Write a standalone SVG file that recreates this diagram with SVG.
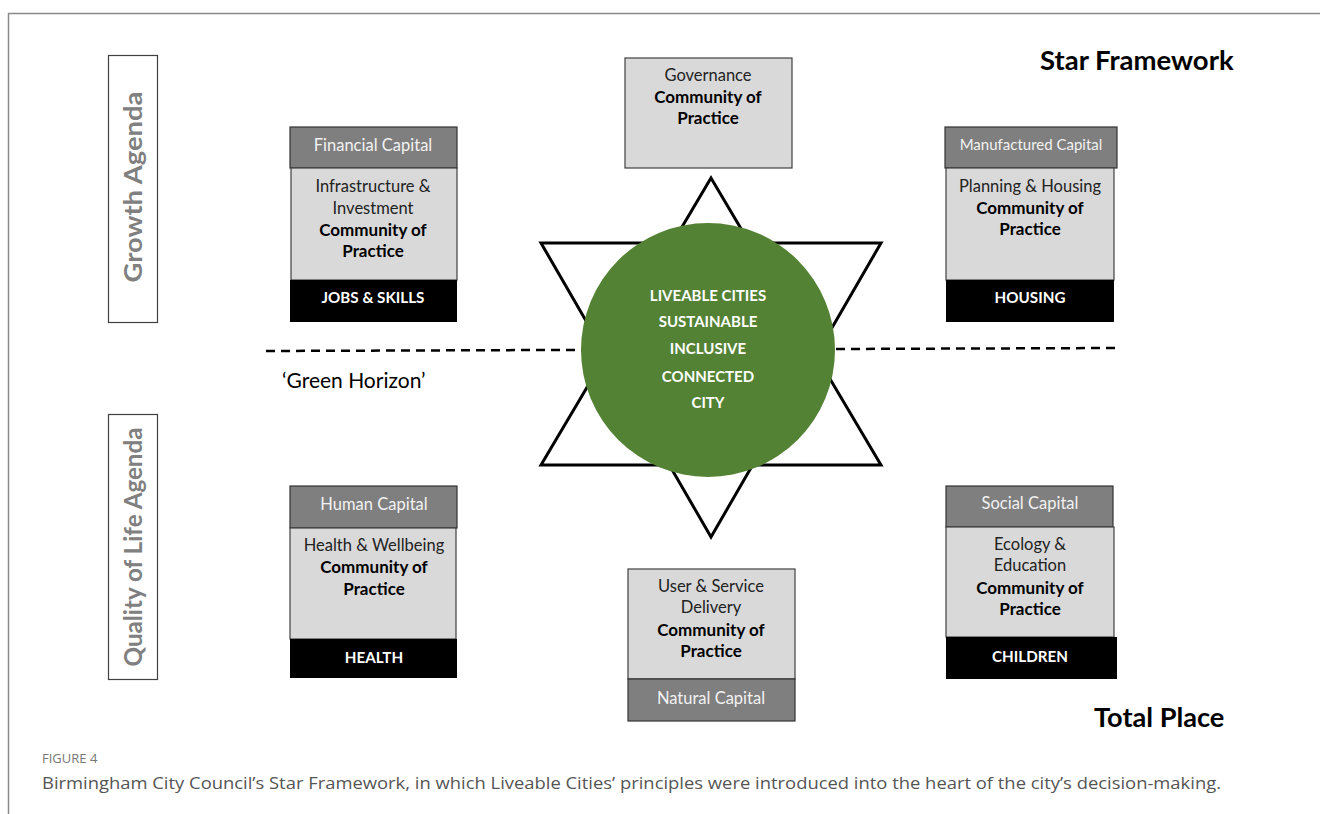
<svg xmlns="http://www.w3.org/2000/svg" width="1320" height="814" viewBox="0 0 1320 814">
<style>
  .t{font-family:Lato,"Liberation Sans",sans-serif;font-size:16.5px;text-anchor:middle}
  .hdr{fill:#7f7f7f;stroke:#333;stroke-width:1.2}
  .bod{fill:#d9d9d9;stroke:#404040;stroke-width:1.2}
  .ftr{fill:#000}
  .ht{fill:#f2f2f2}
  .bt{fill:#222}
  .b{font-weight:bold;fill:#000;font-size:17px}
  .ft{fill:#fff;font-weight:bold;font-size:15.2px}
  .side{fill:#fff;stroke:#404040;stroke-width:1.2}
  .sidet{font-family:Lato,"Liberation Sans",sans-serif;font-size:25px;fill:#808080;font-weight:bold;text-anchor:middle}
  .ct{font-family:Lato,"Liberation Sans",sans-serif;font-size:15px;font-weight:bold;fill:#fff;text-anchor:middle}
  .title{font-family:Lato,"Liberation Sans",sans-serif;font-size:27.5px;font-weight:bold;fill:#000}
</style>
<rect width="1320" height="814" fill="#fff"/>
<path d="M8.5 814 V13.5 H1320" fill="none" stroke="#8a8a8a" stroke-width="1.5"/>

<g id="growth-agenda">
  <rect class="side" x="108.5" y="55.5" width="49" height="267"/>
  <text class="sidet" transform="translate(142 187) rotate(-90)" textLength="191" lengthAdjust="spacingAndGlyphs">Growth Agenda</text>
</g>
<g id="quality-agenda">
  <rect class="side" x="108.5" y="414.5" width="49" height="265"/>
  <text class="sidet" transform="translate(142 547) rotate(-90)" textLength="239" lengthAdjust="spacingAndGlyphs">Quality of Life Agenda</text>
</g>

<g id="connectors">
  <line x1="266" y1="351" x2="1117" y2="348" stroke="#000" stroke-width="2.5" stroke-dasharray="9 6"/>
</g>

<g id="star">
  <polygon points="711,178 881,465 541,465" fill="#fff" stroke="#000" stroke-width="3" stroke-linejoin="miter"/>
  <polygon points="541,243 881,243 711,537" fill="none" stroke="#000" stroke-width="3" stroke-linejoin="miter"/>
</g>

<g id="center">
  <circle cx="708" cy="350" r="127" fill="#548235"/>
  <text class="ct" x="708" y="301">LIVEABLE CITIES</text>
  <text class="ct" x="708" y="327">SUSTAINABLE</text>
  <text class="ct" x="708" y="354">INCLUSIVE</text>
  <text class="ct" x="708" y="382">CONNECTED</text>
  <text class="ct" x="708" y="408">CITY</text>
</g>

<g id="governance">
  <rect class="bod" x="625" y="58" width="167" height="110"/>
  <text class="t bt" x="708" y="81">Governance</text>
  <text class="t b" x="708" y="103">Community of</text>
  <text class="t b" x="708" y="124">Practice</text>
</g>

<g id="financial">
  <rect class="hdr" x="290" y="127" width="167" height="41"/>
  <rect class="bod" x="291" y="168" width="166" height="112"/>
  <rect class="ftr" x="290" y="280" width="167" height="42"/>
  <text class="t ht" x="373" y="151">Financial Capital</text>
  <text class="t bt" x="373" y="192">Infrastructure &amp;</text>
  <text class="t bt" x="373" y="214">Investment</text>
  <text class="t b" x="373" y="236">Community of</text>
  <text class="t b" x="373" y="257">Practice</text>
  <text class="t ft" x="373" y="303">JOBS &amp; SKILLS</text>
</g>

<g id="manufactured">
  <rect class="hdr" x="945" y="127" width="172" height="41"/>
  <rect class="bod" x="946" y="168" width="168" height="112"/>
  <rect class="ftr" x="946" y="280" width="168" height="42"/>
  <text class="t ht" x="1031" y="150" style="font-size:15px">Manufactured Capital</text>
  <text class="t bt" x="1030" y="192">Planning &amp; Housing</text>
  <text class="t b" x="1030" y="214">Community of</text>
  <text class="t b" x="1030" y="235">Practice</text>
  <text class="t ft" x="1030" y="303">HOUSING</text>
</g>

<g id="human">
  <rect class="hdr" x="290" y="486" width="167" height="42"/>
  <rect class="bod" x="290" y="528" width="166" height="111"/>
  <rect class="ftr" x="290" y="639" width="167" height="39"/>
  <text class="t ht" x="374" y="510">Human Capital</text>
  <text class="t bt" x="374" y="551">Health &amp; Wellbeing</text>
  <text class="t b" x="374" y="573">Community of</text>
  <text class="t b" x="374" y="595">Practice</text>
  <text class="t ft" x="374" y="663">HEALTH</text>
</g>

<g id="natural">
  <rect class="bod" x="628" y="569" width="167" height="110"/>
  <rect class="hdr" x="628" y="679" width="167" height="42"/>
  <text class="t bt" x="711" y="592">User &amp; Service</text>
  <text class="t bt" x="711" y="613">Delivery</text>
  <text class="t b" x="711" y="636">Community of</text>
  <text class="t b" x="711" y="657">Practice</text>
  <text class="t ht" x="711" y="704">Natural Capital</text>
</g>

<g id="social">
  <rect class="hdr" x="946" y="486" width="167" height="41"/>
  <rect class="bod" x="946" y="527" width="168" height="110"/>
  <rect class="ftr" x="946" y="637" width="171" height="42"/>
  <text class="t ht" x="1030" y="509">Social Capital</text>
  <text class="t bt" x="1030" y="550">Ecology &amp;</text>
  <text class="t bt" x="1030" y="571">Education</text>
  <text class="t b" x="1030" y="594">Community of</text>
  <text class="t b" x="1030" y="615">Practice</text>
  <text class="t ft" x="1030" y="662">CHILDREN</text>
</g>

<text x="282" y="388" style="font-family:Lato,'Liberation Sans',sans-serif;font-size:21px;fill:#000">‘Green Horizon’</text>
<text class="title" x="1040" y="70">Star Framework</text>
<text class="title" x="1094" y="727" style="font-size:27.2px">Total Place</text>

<text x="42" y="763" style="font-family:'Open Sans','Liberation Sans',sans-serif;font-size:13px;fill:#777">FIGURE 4</text>
<text x="42" y="789" textLength="1179" lengthAdjust="spacingAndGlyphs" style="font-family:'Open Sans','Liberation Sans',sans-serif;font-size:17px;fill:#555">Birmingham City Council’s Star Framework, in which Liveable Cities’ principles were introduced into the heart of the city’s decision-making.</text>
</svg>
